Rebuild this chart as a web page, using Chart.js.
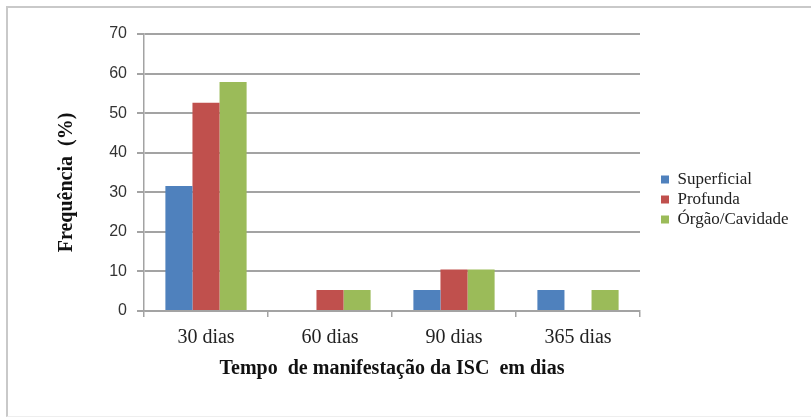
<!DOCTYPE html>
<html>
<head>
<meta charset="utf-8">
<script src="https://cdn.jsdelivr.net/npm/chart.js@4.4.1/dist/chart.umd.min.js"></script>
<style>
    html, body { margin: 0; padding: 0; background: #fff; }
    #okvir {
        position: absolute; left: 6px; top: 6px; width: 820px; height: 408px;
        border-top: 2px solid #c9c9c9; border-left: 2px solid #c9c9c9; border-bottom: 1px solid #eeeeee;
    }
    #wrap { position: absolute; left: 0; top: 0; width: 811px; height: 417px; }
</style>
</head>
<body>
<div id="okvir"></div>
<div id="wrap"><canvas id="grafico"></canvas></div>
<script>
const categorias = ["30 dias", "60 dias", "90 dias", "365 dias"];
const superficial = [31.6, 0, 5.3, 5.3];
const profunda = [52.6, 5.3, 10.5, 0];
const orgaoCavidade = [57.9, 5.3, 10.5, 5.3];
const ticksY = [0, 10, 20, 30, 40, 50, 60, 70];

const cinza = "#a3a3a3";

// legenda stoji desno od grafa, malo pomjerena prema unutra
const pomjeriLegendu = {
    id: "pomjeriLegendu",
    afterLayout(chart) {
        const leg = chart.legend;
        const pad = leg.options.labels.padding;
        leg.left = 661 - pad;
        leg.right = leg.left + 145;
        leg.top = 171 - pad;
    },
};

document.addEventListener("DOMContentLoaded", () => {
    new Chart(document.getElementById("grafico"), {
        type: "bar",
        data: {
            labels: categorias,
            datasets: [
                { label: "Superficial", data: superficial, backgroundColor: "#4F81BD" },
                { label: "Profunda", data: profunda, backgroundColor: "#C0504D" },
                { label: "Órgão/Cavidade", data: orgaoCavidade, backgroundColor: "#9BBB59" },
            ],
        },
        options: {
            responsive: true,
            maintainAspectRatio: false,
            animation: false,
            layout: { padding: { left: 0, top: 34, right: 71, bottom: 0 } },
            datasets: { bar: { categoryPercentage: 0.655, barPercentage: 1, borderWidth: 0 } },
            plugins: {
                tooltip: { enabled: false },
                legend: {
                    position: "right",
                    align: "start",
                    maxWidth: 100,
                    labels: {
                        boxWidth: 8,
                        boxHeight: 8,
                        padding: 3,
                        color: "#222",
                        font: { family: "'Liberation Serif', serif", size: 17 },
                    },
                },
            },
            scales: {
                x: {
                    afterFit(scale) { scale.height = 106; },
                    grid: { display: true, drawOnChartArea: false, tickLength: 6, color: cinza, lineWidth: 1.5 },
                    border: { color: cinza, width: 1.5 },
                    ticks: {
                        padding: 9,
                        color: "#222",
                        font: { family: "'Liberation Serif', serif", size: 20 },
                    },
                    title: {
                        display: true,
                        text: "Tempo  de manifestação da ISC  em dias",
                        color: "#111",
                        font: { family: "'Liberation Serif', serif", size: 20, weight: "bold" },
                        padding: { top: 0, bottom: 36 },
                    },
                },
                y: {
                    min: ticksY[0],
                    max: ticksY[ticksY.length - 1],
                    afterFit(scale) { scale.width = 144; },
                    ticks: {
                        stepSize: ticksY[1] - ticksY[0],
                        padding: 10,
                        color: "#333",
                        font: { family: "'Liberation Sans', sans-serif", size: 16 },
                    },
                    grid: { color: cinza, lineWidth: 2, tickLength: 7 },
                    border: { color: cinza, width: 1.5 },
                    title: {
                        display: true,
                        text: "Frequência  (%)    ",
                        color: "#111",
                        font: { family: "'Liberation Serif', serif", size: 20, weight: "bold" },
                        padding: { top: 55, bottom: 0 },
                    },
                },
            },
        },
        plugins: [pomjeriLegendu],
    });
});
</script>
</body>
</html>
